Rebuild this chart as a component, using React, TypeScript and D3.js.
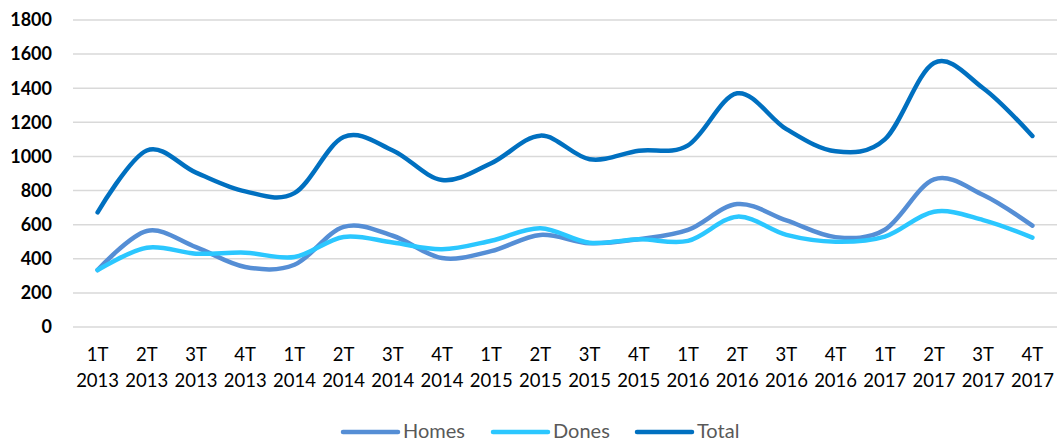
import React from "react";
import * as d3 from "d3";

const quarters = ["1T","2T","3T","4T","1T","2T","3T","4T","1T","2T","3T","4T","1T","2T","3T","4T","1T","2T","3T","4T"];
const years = ["2013","2013","2013","2013","2014","2014","2014","2014","2015","2015","2015","2015","2016","2016","2016","2016","2017","2017","2017","2017"];
const homes = [334, 563, 468, 352, 365, 587, 535, 404, 445, 540, 491, 515, 569, 721, 625, 527, 570, 865, 774, 594];
const dones = [334, 465, 430, 436, 410, 528, 495, 456, 506, 579, 494, 515, 505, 647, 540, 500, 530, 676, 627, 524];
const total = [672, 1035, 905, 795, 785, 1114, 1035, 862, 960, 1122, 984, 1033, 1065, 1370, 1160, 1030, 1100, 1548, 1400, 1120];
const yTicks = [0, 200, 400, 600, 800, 1000, 1200, 1400, 1600, 1800];

const seriesNames = ["Homes", "Dones", "Total"];
const seriesColors = ["#558ED5", "#2BC7FF", "#0070C0"];

export default function App() {
  const W = 1057, H = 443;
  const x = d3.scaleBand<number>().domain(d3.range(quarters.length)).range([73, 1057]);
  const y = d3.scaleLinear().domain([0, 1800]).range([327, 20]);
  const line = d3
    .line<number>()
    .x((_, i) => (x(i) as number) + x.bandwidth() / 2)
    .y((d) => y(d))
    .curve(d3.curveCardinal.tension(0));
  const data = [homes, dones, total];
  const legendX = [343, 493, 637];
  return (
    <svg width={W} height={H} style={{ position: "absolute", left: 0, top: 0, background: "#fff" }}>
      {yTicks.map((t) => (
        <g key={t}>
          <line x1={73} x2={1057} y1={y(t)} y2={y(t)} stroke="#D9D9D9" strokeWidth={1.5} />
          <text x={52} y={y(t)} dy="0.35em" textAnchor="end" fontFamily="Lato" fontWeight="bold" fontSize={18} fill="#000">
            {t}
          </text>
        </g>
      ))}
      {quarters.map((q, i) => {
        const cx = (x(i) as number) + x.bandwidth() / 2;
        return (
          <text key={i} x={cx} textAnchor="middle" fontFamily="Lato" fontSize={18.5} fill="#000">
            <tspan x={cx} y={361}>{q}</tspan>
            <tspan x={cx} y={387}>{years[i]}</tspan>
          </text>
        );
      })}
      {data.map((d, k) => (
        <path key={k} d={line(d) || ""} fill="none" stroke={seriesColors[k]} strokeWidth={4.5} strokeLinecap="round" strokeLinejoin="round" />
      ))}
      {seriesNames.map((n, k) => (
        <g key={n}>
          <line x1={legendX[k]} x2={legendX[k] + 55} y1={432} y2={432} stroke={seriesColors[k]} strokeWidth={4.5} strokeLinecap="round" />
          <text x={legendX[k] + 60} y={438} fontFamily="Lato" fontSize={20} fill="#595959">
            {n}
          </text>
        </g>
      ))}
    </svg>
  );
}
